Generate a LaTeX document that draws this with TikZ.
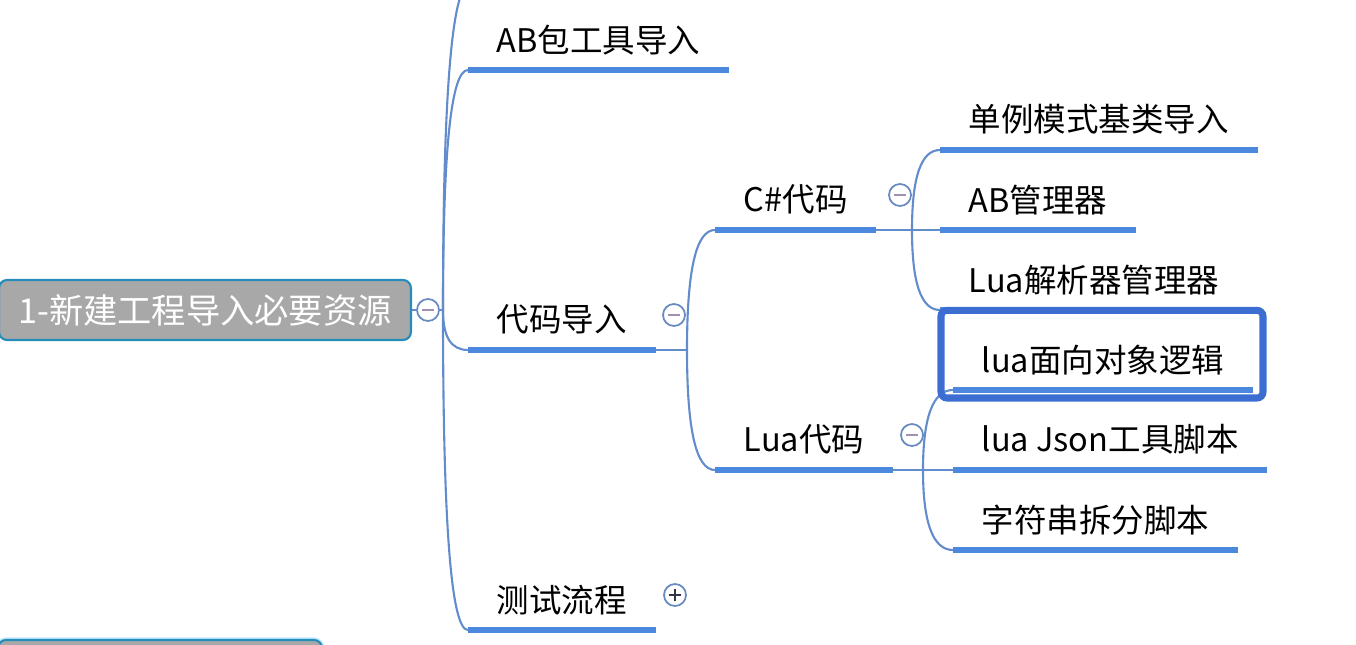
\documentclass[tikz,border=0pt]{standalone}
\usepackage{fontspec}
\newfontfamily\cjk{Noto Sans CJK SC}
\usetikzlibrary{shapes}
\definecolor{barblue}{RGB}{76,136,222}
\definecolor{linkblue}{RGB}{98,140,204}
\definecolor{selblue}{RGB}{60,110,210}
\definecolor{rootgray}{RGB}{168,168,168}
\definecolor{rootedge}{RGB}{38,140,186}
\definecolor{btnedge}{RGB}{104,138,192}
\definecolor{minusgray}{RGB}{160,144,178}
\definecolor{plusdark}{RGB}{50,55,70}

\begin{document}
\begin{tikzpicture}[x=0.02cm,y=-0.02cm]
\tikzstyle{topic}=[anchor=south west,minimum height=1.2cm,inner xsep=0.57cm,inner ysep=0pt,font=\cjk\fontsize{18.5}{20}\selectfont,text=black]
\tikzstyle{root}=[rectangle,rounded corners=0.16cm,draw=rootedge,line width=1.2pt,fill=rootgray,text=white,minimum height=1.2cm,font=\cjk\fontsize{19.5}{21}\selectfont]
\tikzstyle{bar}=[draw=barblue,line width=3.3pt]
\tikzstyle{link}=[draw=linkblue,line width=1.2pt]
\tikzstyle{selbox}=[draw=selblue,line width=4pt,rounded corners=0.12cm]
\tikzstyle{btnminus}=[circle,draw=btnedge,line width=1pt,fill=white,minimum size=0.44cm,inner sep=0pt,
  path picture={\draw[minusgray,line width=1.3pt] ([xshift=-3.5pt]path picture bounding box.center) -- ([xshift=3.5pt]path picture bounding box.center);}]
\tikzstyle{btnplus}=[circle,draw=btnedge,line width=1pt,fill=white,minimum size=0.44cm,inner sep=0pt,
  path picture={\draw[plusdark,line width=1.3pt] ([xshift=-3.5pt]path picture bounding box.center) -- ([xshift=3.5pt]path picture bounding box.center);
                \draw[plusdark,line width=1.3pt] ([yshift=-3.5pt]path picture bounding box.center) -- ([yshift=3.5pt]path picture bounding box.center);}]
\useasboundingbox (0,0) rectangle (1356,645);
\clip (0,0) rectangle (1356,645);

% root and first level
\node [root,minimum width=8.24cm] (root) at (205,310) {1-新建工程导入必要资源};
\node [root,minimum width=6.48cm,preaction={draw=cyan!25,line width=3pt}] (nextroot) at (160,670) {};
\node [btnminus] (rootbtn) at (428,310) {};
\coordinate (rootfork) at (443,310);
\coordinate (prevtopic) at (470,-16);
\node [topic] (abtool) at (468,70) {AB包工具导入};
\node [topic] (code) at (468,350) {代码导入};
\node [topic] (test) at (468,630) {测试流程};
\node [btnminus] (codebtn) at (674,315) {};
\node [btnplus] (testbtn) at (675,595) {};

% second level
\coordinate (codefork) at (687,350);
\node [topic] (cs) at (715,230) {C\#代码};
\node [topic] (luacode) at (715,470) {Lua代码};
\node [btnminus] (csbtn) at (900,195) {};
\node [btnminus] (luabtn) at (912,435) {};

% third level
\coordinate (csfork) at (912,230);
\coordinate (luafork) at (923,470);
\node [topic] (single) at (940,150) {单例模式基类导入};
\node [topic] (abmgr) at (940,230) {AB管理器};
\node [topic] (luaparse) at (940,310) {Lua解析器管理器};
\node [topic] (luaoop) at (953,390) {lua面向对象逻辑};
\node [topic] (json) at (953,470) {lua Json工具脚本};
\node [topic] (strsplit) at (953,550) {字符串拆分脚本};

% underlines
\draw[bar] (abtool.south west) -- (abtool.south east);
\draw[bar] (code.south west) -- (code.south east);
\draw[bar] (test.south west) -- (test.south east);
\draw[bar] (cs.south west) -- (cs.south east);
\draw[bar] (luacode.south west) -- (luacode.south east);
\draw[bar] (single.south west) -- (single.south east);
\draw[bar] (abmgr.south west) -- (abmgr.south east);
\draw[bar] (luaparse.south west) -- (luaparse.south east);
\draw[bar] (luaoop.south west) -- (luaoop.south east);
\draw[bar] (json.south west) -- (json.south east);
\draw[bar] (strsplit.south west) -- (strsplit.south east);

% connectors
\draw[link] (root) -- (rootbtn) -- (rootfork);
\draw[link]
  (rootfork) .. controls +(0,-217) and +(-18,0) .. (prevtopic);
\draw[link]
  (rootfork) .. controls +(0,-160) and +(-17,0) .. (abtool.south west);
\draw[link]
  (rootfork) .. controls +(0,27) and +(-17,0) .. (code.south west);
\draw[link]
  (rootfork) .. controls +(0,213) and +(-17,0) .. (test.south west);
\draw[link] (code.south east) -- (codefork);
\draw[link]
  (codefork) .. controls +(0,-80) and +(-19,0) .. (cs.south west);
\draw[link]
  (codefork) .. controls +(0,80) and +(-19,0) .. (luacode.south west);
\draw[link] (cs.south east) -- (csfork) -- (abmgr.south west);
\draw[link]
  (csfork) .. controls +(0,-53) and +(-19,0) .. (single.south west);
\draw[link]
  (csfork) .. controls +(0,53) and +(-19,0) .. (luaparse.south west);
\draw[link] (luacode.south east) -- (luafork) -- (json.south west);
\draw[link]
  (luafork) .. controls +(0,-53) and +(-20,0) .. (luaoop.south west);
\draw[link]
  (luafork) .. controls +(0,53) and +(-20,0) .. (strsplit.south west);

% selection frame
\draw[selbox] ([shift={(-12,8)}]luaoop.south west) rectangle ([shift={(10,-19)}]luaoop.north east);
\end{tikzpicture}
\end{document}
